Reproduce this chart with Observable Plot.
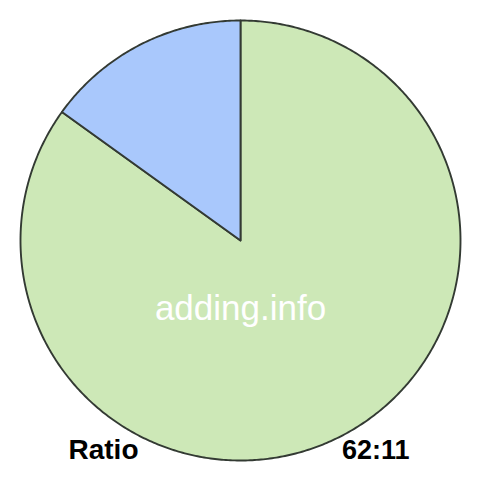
<!DOCTYPE html>
<html>
<head>
<meta charset="utf-8">
<script src="https://cdn.jsdelivr.net/npm/d3@7"></script>
<script src="https://cdn.jsdelivr.net/npm/@observablehq/plot@0.6"></script>
<style>
  html, body { margin: 0; padding: 0; background: #fff; }
  #chart svg { display: block; }
</style>
</head>
<body>
<div id="chart"></div>
<script>
const categories = ["A", "B"];
const values = [62, 11];
const colors = ["#cde8b7", "#a9c8fc"];
const watermark = "adding.info";
const labelLeft = "Ratio";
const labelRight = "62:11";

const pie = d3.pie().sort(null).value(d => d.value)(
  categories.map((c, i) => ({ category: c, value: values[i] }))
);

// build polygon rows for each slice (unit radius)
const rows = [];
pie.forEach(s => {
  const cat = s.data.category;
  rows.push({ category: cat, x: 0, y: 0 });
  const n = Math.max(2, Math.ceil((s.endAngle - s.startAngle) / 0.01));
  for (let k = 0; k <= n; k++) {
    const a = s.startAngle + (s.endAngle - s.startAngle) * k / n;
    rows.push({ category: cat, x: Math.sin(a), y: Math.cos(a) });
  }
});

const ext = 240 / 220;
const chart = Plot.plot({
  width: 480,
  height: 480,
  margin: 0,
  x: { domain: [-ext, ext], axis: null },
  y: { domain: [-ext, ext], axis: null },
  color: { domain: categories, range: colors },
  style: { fontFamily: "'Liberation Sans', Arial, Helvetica, sans-serif", background: "#fff" },
  marks: [
    Plot.line(rows, {
      x: "x", y: "y", z: "category", fill: "category",
      stroke: "#333a33", strokeWidth: 1.9, curve: "linear-closed", strokeLinejoin: "round"
    }),
    Plot.text([watermark], {
      text: d => d, frameAnchor: "middle", dy: 68,
      fill: "#fff", fontSize: 35
    }),
    Plot.text([labelLeft], {
      text: d => d, frameAnchor: "left", textAnchor: "start", dx: 68, dy: 210,
      fill: "#000", fontSize: 28, fontWeight: "bold"
    }),
    Plot.text([labelRight], {
      text: d => d, frameAnchor: "right", textAnchor: "end", dx: -71, dy: 210,
      fill: "#000", fontSize: 27, fontWeight: "bold"
    })
  ]
});
document.getElementById("chart").appendChild(chart);
</script>
</body>
</html>
